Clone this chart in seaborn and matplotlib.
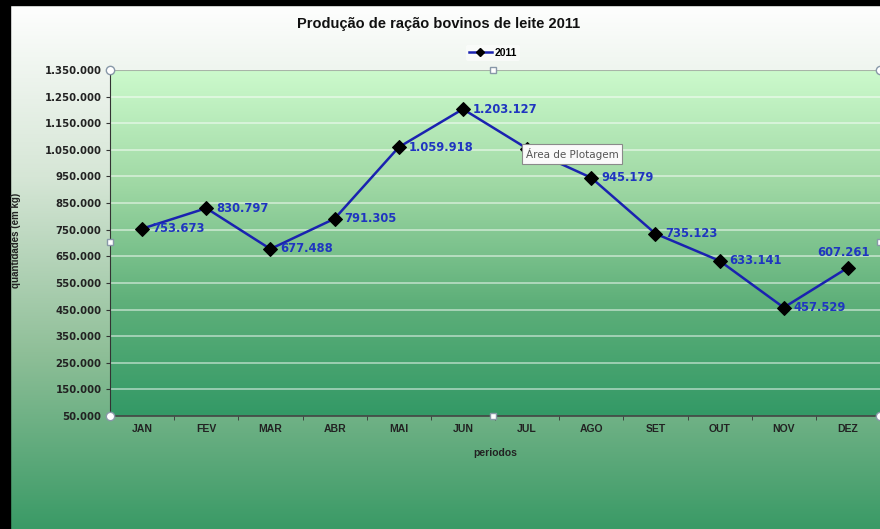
import numpy as np
import pandas as pd
import matplotlib
matplotlib.use("Agg")
import matplotlib.pyplot as plt
import seaborn as sns
from matplotlib.colors import LinearSegmentedColormap
from matplotlib.lines import Line2D
from matplotlib.patches import Rectangle
from matplotlib.ticker import FuncFormatter

# ---- data ----
months = ["JAN", "FEV", "MAR", "ABR", "MAI", "JUN", "JUL", "AGO", "SET", "OUT", "NOV", "DEZ"]
values_2011 = [753673, 830797, 677488, 791305, 1059918, 1203127, 1055000, 945179, 735123, 633141, 457529, 607261]
shown_labels = ["753.673", "830.797", "677.488", "791.305", "1.059.918", "1.203.127", "", "945.179",
                "735.123", "633.141", "457.529", "607.261"]
y_ticks = list(range(50000, 1350001, 100000))

title = "Produção de ração bovinos de leite 2011"
series_name = "2011"
x_label = "periodos"
y_label = "quantidades (em kg)"

plt.rcParams['font.family'] = ['Liberation Sans', 'DejaVu Sans']

W, H = 880, 529
fig = plt.figure(figsize=(W / 100, H / 100), dpi=100)

# outer gradient background
bg = fig.add_axes([0, 0, 1, 1], zorder=-10)
outer_cmap = LinearSegmentedColormap.from_list("outer", ["#ffffff", "#d6e6d6", "#8fbf98", "#3a9a66"])
bg.imshow(np.linspace(0, 1, 256).reshape(-1, 1), aspect="auto", cmap=outer_cmap,
          extent=[0, 1, 0, 1], origin="upper")
bg.set_xlim(0, 1); bg.set_ylim(0, 1)
bg.axis("off")
# black frame on left and top
bg.add_patch(Rectangle((0, 0), 10 / W, 1, color="black", transform=bg.transAxes, zorder=5))
bg.add_patch(Rectangle((0, 1 - 5 / H), 1, 5 / H, color="black", transform=bg.transAxes, zorder=5))

# main plot axes
ax = fig.add_axes([110 / W, 1 - 416 / H, 770 / W, 346 / H])
ax.set_facecolor("none")
plot_cmap = LinearSegmentedColormap.from_list("plot", ["#ccfacc", "#9fd8a4", "#5fb07a", "#339966"])
ax.imshow(np.linspace(0, 1, 256).reshape(-1, 1), aspect="auto", cmap=plot_cmap,
          extent=[-0.5, 11.5, 50000, 1350000], origin="upper", zorder=0)

df = pd.DataFrame({"mes": range(len(months)), "valor": values_2011})
for yt in y_ticks[1:-1]:
    ax.axhline(yt, color="white", alpha=0.55, lw=1.2, zorder=1)
ax.axhline(1350000, color="#a8b4a8", lw=1.5, zorder=1)

sns.lineplot(data=df, x="mes", y="valor", ax=ax, color="#1a22b0", lw=1.8, zorder=3,
             marker="D", markersize=7.5, markerfacecolor="black", markeredgecolor="black")

for i, (v, lab) in enumerate(zip(values_2011, shown_labels)):
    if not lab:
        continue
    if i == len(months) - 1:
        ax.annotate(lab, (i, v), xytext=(-3, 6), textcoords="offset points", ha="center", va="bottom",
                    color="#1f35c0", fontsize=8.3, fontweight="bold", family=["DejaVu Sans"], zorder=4)
    else:
        ax.annotate(lab, (i, v), xytext=(7, 0), textcoords="offset points", ha="left", va="center",
                    color="#1f35c0", fontsize=8.3, fontweight="bold", family=["DejaVu Sans"], zorder=4)

ax.set_xlim(-0.5, 11.5)
ax.set_ylim(50000, 1350000)
ax.set_yticks(y_ticks)
ax.yaxis.set_major_formatter(FuncFormatter(lambda v, p: f"{int(v):,}".replace(",", ".")))
ax.set_xticks(range(len(months)))
ax.set_xticklabels(months)
ax.set_xticks(np.arange(0.5, 11.5, 1), minor=True)
ax.tick_params(axis="x", which="major", length=0, pad=6, labelsize=7.5, labelcolor="#222222")
ax.tick_params(axis="x", which="minor", length=3, color="#333333", direction="out")
ax.tick_params(axis="y", length=3, color="#333333", pad=3, labelsize=7.3, labelcolor="#222222")
for t in ax.get_xticklabels():
    t.set_fontweight("bold")
for t in ax.get_yticklabels():
    t.set_fontweight("bold")
    t.set_family(["DejaVu Sans"])
for s in ["top", "right"]:
    ax.spines[s].set_visible(False)
ax.spines["left"].set_color("#333333")
ax.spines["bottom"].set_color("#444444")
ax.spines["bottom"].set_linewidth(1.2)

ax.set_xlabel(x_label, fontsize=7.5, fontweight="bold", color="#222222", labelpad=10)
ax.set_ylabel("")
fig.text(16 / W, 1 - 240 / H, y_label, rotation=90, ha="center", va="center",
         fontsize=7, fontweight="bold", color="#222222")

fig.text(439 / W, 1 - 24 / H, title, ha="center", va="center", fontsize=10.5, fontweight="bold", color="#111111")

handle = Line2D([], [], color="#1a22b0", lw=1.8, marker="D", markersize=4.5,
                markerfacecolor="black", markeredgecolor="black")
leg = fig.legend([handle], [series_name], loc="center", bbox_to_anchor=(493 / W, 1 - 53 / H),
                 frameon=True, fontsize=7.5, handlelength=2.2, handletextpad=0.3, borderpad=0.3)
leg.get_frame().set_facecolor("#ffffff")
leg.get_frame().set_edgecolor("none")
leg.get_frame().set_alpha(0.5)
for t in leg.get_texts():
    t.set_fontweight("bold")

# selection handles of the plot area
for (hx, hy) in [(0, 0), (1, 0), (0, 1), (1, 1)]:
    ax.plot(hx, hy, "o", transform=ax.transAxes, ms=6, mfc="white", mec="#8898a8", mew=1, clip_on=False, zorder=6)
for (hx, hy) in [(0.497, 0), (0.497, 1), (0, 0.503), (1, 0.503)]:
    ax.plot(hx, hy, "s", transform=ax.transAxes, ms=5, mfc="white", mec="#8898a8", mew=1, clip_on=False, zorder=6)

# tooltip shown over the plot area
fig.text(572 / W, 1 - 154 / H, "Área de Plotagem", ha="center", va="center", fontsize=7.5,
         color="#555555", family=["DejaVu Sans"], zorder=10,
         bbox=dict(boxstyle="square,pad=0.35", fc="#fafafa", ec="#8a8a8a", lw=0.8))

fig.savefig("out.png", dpi=100)
